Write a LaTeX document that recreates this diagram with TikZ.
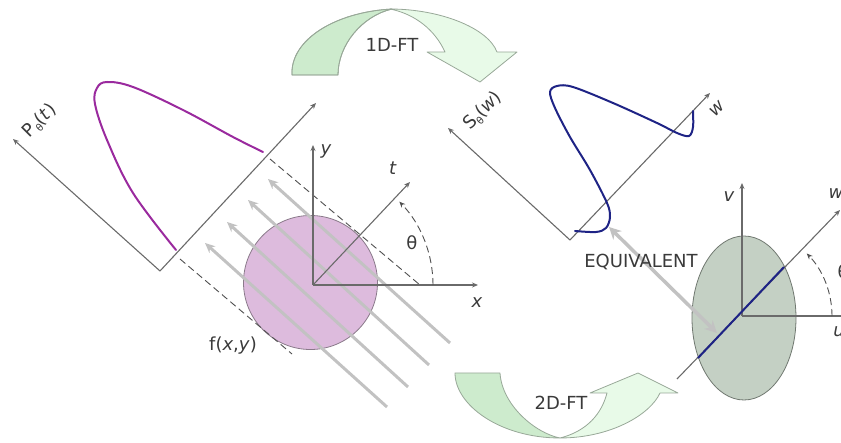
\documentclass[tikz,border=0pt]{standalone}
\usepackage{fontspec}
\setmainfont{DejaVu Sans}
\usetikzlibrary{arrows.meta,shapes.geometric}
\definecolor{axisgray}{HTML}{6A6A6A}
\definecolor{raygray}{HTML}{C2C2C2}
\definecolor{dashgray}{HTML}{505050}
\definecolor{textgray}{HTML}{3A3A3A}
\definecolor{circfill}{HTML}{DDBBDD}
\definecolor{circedge}{HTML}{8A7A8A}
\definecolor{ellfill}{HTML}{C4D0C4}
\definecolor{elledge}{HTML}{707870}
\definecolor{profpurple}{HTML}{9A2A9E}
\definecolor{profnavy}{HTML}{1E2385}
\definecolor{gdark}{HTML}{CDEBCD}
\definecolor{glight}{HTML}{E8FAE8}
\definecolor{gedge}{HTML}{98A898}
\begin{document}
\begin{tikzpicture}[x=1pt,y=-1pt,
  axis/.style={draw=axisgray, line width=1.1pt, -{Stealth[length=6pt,width=5pt]}},
  plainaxis/.style={draw=axisgray, line width=1.1pt},
  ray/.style={draw=raygray, line width=3pt, -{Stealth[length=10pt,width=9pt]}},
  projline/.style={draw=dashgray, line width=0.9pt, dash pattern=on 7pt off 4pt},
  anglearc/.style={draw=dashgray, line width=0.9pt, dash pattern=on 7pt off 4pt, -{Stealth[length=6pt,width=5pt]}},
  lbl/.style={font=\fontsize{18}{21}\selectfont, text=textgray, inner sep=0pt},
  profile/.style={line width=2pt, line cap=round, line join=round},
  band/.style={draw=gedge, line width=0.8pt, line join=round},
]
\useasboundingbox (0,0) rectangle (841,443);
\clip (0,0) rectangle (841,443);

% ---------- 1D-FT arrow ----------
\fill[band, fill=gdark] (292,75) .. controls (290,40) and (335,12) .. (392,9)
  .. controls (362,16) and (338,45) .. (338,75) -- cycle;
\fill[band, fill=glight] (390,9) .. controls (440,9) and (488,28) .. (497,52)
  -- (517,52) -- (480,82) -- (427,52) -- (445,52)
  .. controls (435,30) and (415,14) .. (390,9) -- cycle;
\draw[band] (292,75) .. controls (290,40) and (335,12) .. (392,9)
  .. controls (362,16) and (338,45) .. (338,75) -- cycle;
\node[lbl] (ft1) at (392,45) {1D-FT};

% ---------- 2D-FT arrow ----------
\filldraw[band, fill=gdark] (455,373) .. controls (455,405) and (500,438) .. (560,438)
  .. controls (535,433) and (502,405) .. (500,373) -- cycle;
\filldraw[band, fill=glight] (560,438) .. controls (610,438) and (650,415) .. (660,393)
  -- (678,393) -- (638,373) -- (590,393) -- (607,393)
  .. controls (600,420) and (580,433) .. (560,438) -- cycle;
\node[lbl] (ft2) at (561,403) {2D-FT};

% ---------- left: object and projection ----------
\node[circle, minimum size=134pt, inner sep=0pt, fill=circfill, draw=circedge, line width=0.8pt] (obj) at (310.5,282.5) {};

\coordinate (r1a) at (450,343); \coordinate (r1b) at (268,179);
\coordinate (r2a) at (429,365); \coordinate (r2b) at (248,200);
\coordinate (r3a) at (408,387); \coordinate (r3b) at (227,222);
\coordinate (r4a) at (387,407); \coordinate (r4b) at (205,243);
\draw[ray] (r1a) -- (r1b);
\draw[ray] (r2a) -- (r2b);
\draw[ray] (r3a) -- (r3b);
\draw[ray] (r4a) -- (r4b);

\coordinate (d1a) at (270,159); \coordinate (d1b) at (420,285);
\coordinate (d2a) at (180,259); \coordinate (d2b) at (292,354);
\draw[projline] (d1a) -- (d1b);
\draw[projline] (d2a) -- (d2b);

\coordinate (O) at (313,285);
\coordinate (ytip) at (313,145);
\coordinate (xtip) at (478,285);
\coordinate (ttip) at (410,182);
\draw[axis] (O) -- (ytip);
\draw[axis] (O) -- (xtip);
\draw[axis] (O) -- (ttip);
\draw[anglearc] (433,285) arc[start angle=0, end angle=-44, radius=120];

\coordinate (D0) at (160,271);
\coordinate (Dt) at (316,103);
\coordinate (Dp) at (13,139);
\draw[axis] (D0) -- (Dt);
\draw[axis] (D0) -- (Dp);

\draw[profile, profpurple] plot[smooth, tension=0.6] coordinates {
 (176,250) (133,193) (107,140) (95,104) (97,88) (107,82) (133,87) (183,110) (233,137) (263,152)};

\node[lbl] (ylab) at (326,151) {\textit{y}};
\node[lbl] (xlab) at (477,303) {\textit{x}};
\node[lbl] (tlab) at (393,168) {\textit{t}};
\node[lbl] (thlab) at (412,243) {θ};
\node[lbl] (flab) at (233,346) {f(\textit{x},\textit{y})};
\node[lbl, rotate=45] (plab) at (40,121) {P\raisebox{-0.35ex}{\fontsize{10}{11}\selectfont θ}(\textit{t})};

% ---------- right: frequency domain ----------
\node[ellipse, minimum width=104pt, minimum height=164pt, inner sep=0pt, fill=ellfill, draw=elledge, line width=0.8pt] (ell) at (744,318) {};

\coordinate (U) at (742,316);
\coordinate (vtip) at (742,183);
\coordinate (uend) at (850,316);
\coordinate (wa) at (677,379);
\coordinate (wtip) at (840,210);
\coordinate (ba) at (698,358);
\coordinate (bb) at (784,267);
\draw[axis] (U) -- (vtip);
\draw[plainaxis] (U) -- (uend);
\draw[axis] (wa) -- (wtip);
\draw[line width=2pt, profnavy] (ba) -- (bb);
\draw[anglearc] (832,316) arc[start angle=0, end angle=-44, radius=90];

\node[lbl] (vlab) at (729,197) {\textit{v}};
\node[lbl] (ulab) at (839,332) {\textit{u}};
\node[lbl] (w2lab) at (836,194) {\textit{w}};
\node[lbl] (th2lab) at (843,272) {θ};

\coordinate (S0) at (570,240);
\coordinate (Sw) at (710,93);
\coordinate (Ss) at (448,128);
\draw[axis] (S0) -- (Sw);
\draw[axis] (S0) -- (Ss);

\draw[profile, profnavy] plot[smooth, tension=0.55] coordinates {
 (575,231) (596,232) (606,228) (610,217) (607,203) (590,170) (570,137) (555,108) (550,92) (557,86) (573,87) (613,103) (657,123) (677,133) (689,136) (693,127) (693,111)};

\node[lbl, rotate=45] (wlab) at (717,109) {\textit{w}};
\node[lbl, rotate=45] (slab) at (483,111) {S\raisebox{-0.35ex}{\fontsize{10}{11}\selectfont θ}(\textit{w})};

% ---------- equivalence ----------
\coordinate (e1) at (717,333);
\coordinate (e2) at (609,227);
\draw[draw=raygray, line width=3.5pt, {Stealth[length=12pt,width=12pt]}-{Stealth[length=12pt,width=12pt]}] (e1) -- (e2);
\node[lbl] (eqlab) at (641,262) {EQUIVALENT};
\end{tikzpicture}
\end{document}
